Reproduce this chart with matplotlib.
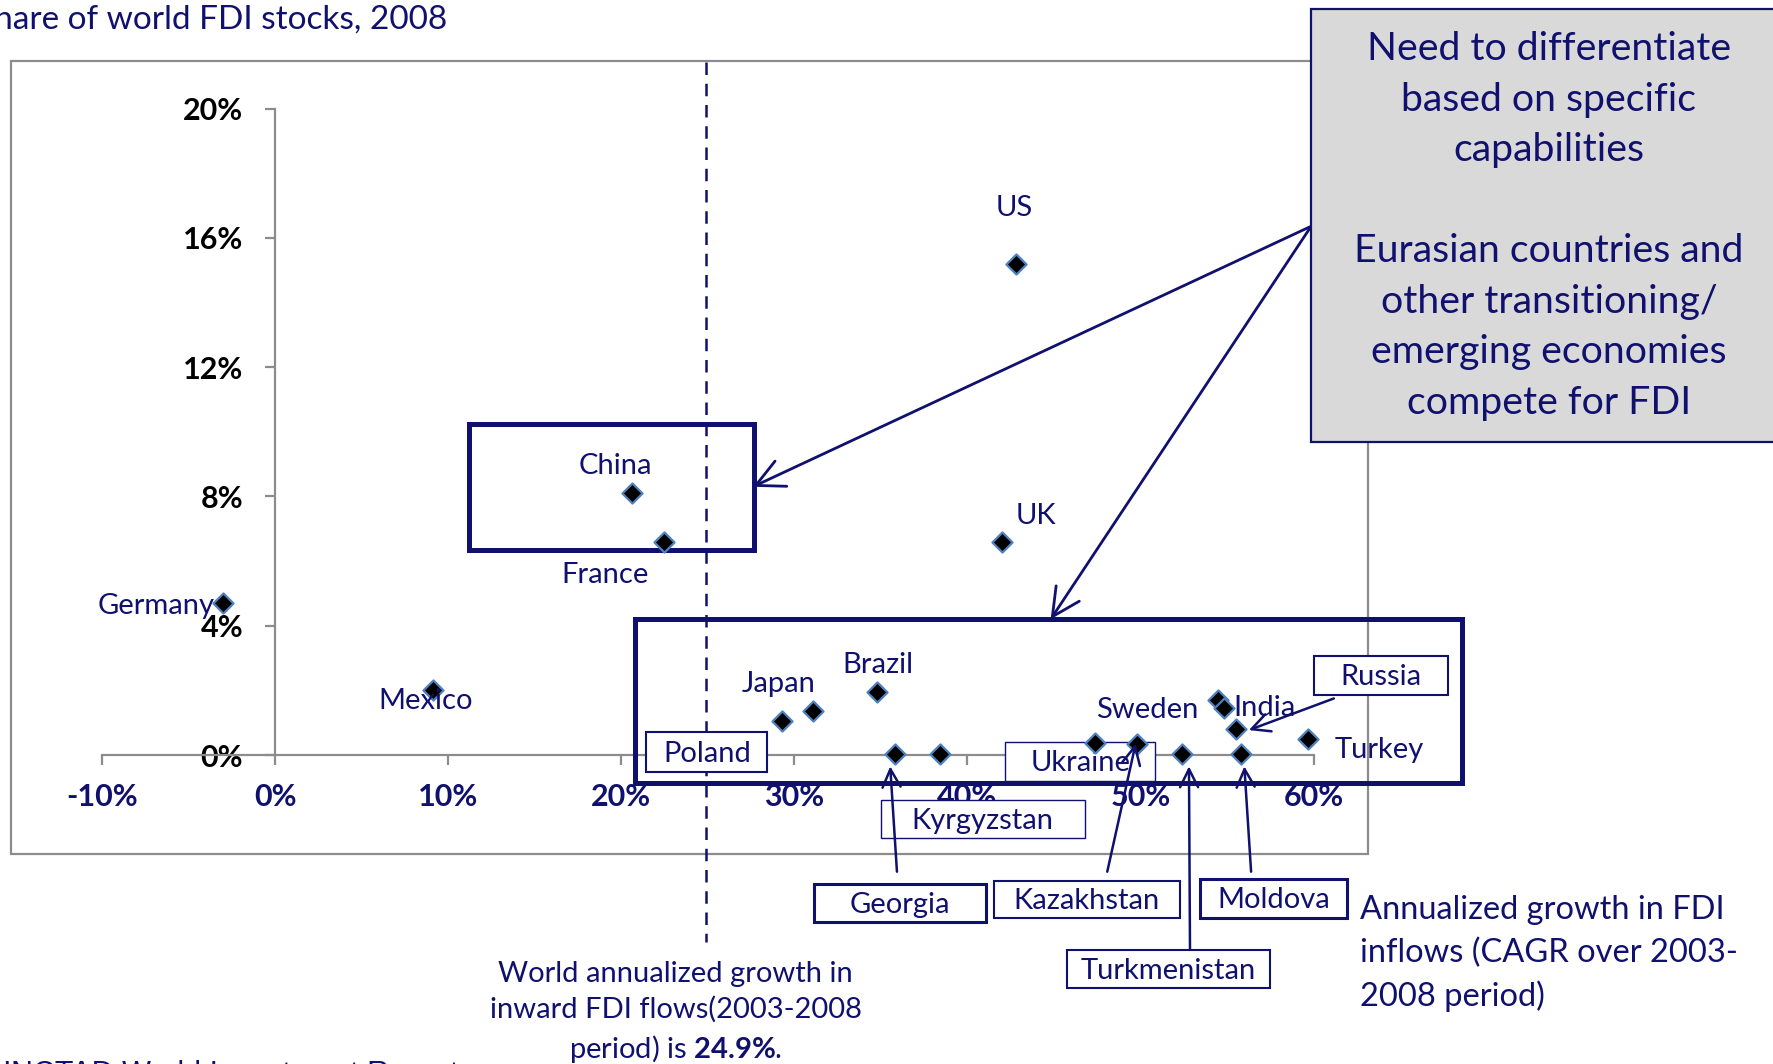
import matplotlib
matplotlib.use('Agg')
import matplotlib.pyplot as plt
from matplotlib.patches import Rectangle, FancyArrowPatch

# ---- data ----
countries = ['US', 'China', 'France', 'UK', 'Germany', 'Mexico', 'Poland', 'Japan', 'Brazil',
             'Georgia', 'Kyrgyzstan', 'Ukraine', 'Kazakhstan', 'Turkmenistan', 'Sweden',
             'India', 'Russia', 'Moldova', 'Turkey']
fdi_growth = [42.8, 20.6, 22.5, 42.0, -3.0, 9.1, 29.3, 31.1, 34.8,
              35.8, 38.4, 47.4, 49.8, 52.4, 54.5, 54.8, 55.5, 55.8, 59.7]
stock_share = [15.2, 8.1, 6.6, 6.6, 4.7, 2.0, 1.05, 1.35, 1.95,
               0.03, 0.03, 0.38, 0.35, 0.03, 1.7, 1.45, 0.82, 0.03, 0.5]
world_growth = 24.9
x_ticks = [-10, 0, 10, 20, 30, 40, 50, 60]
y_ticks = [0, 4, 8, 12, 16, 20]

NAVY = '#10106e'
GREY = '#8c8c8c'
FONT = 'Lato'

plt.rcParams['font.family'] = [FONT, 'DejaVu Sans']
plt.rcParams['mathtext.fontset'] = 'custom'
plt.rcParams['mathtext.rm'] = FONT
plt.rcParams['mathtext.bf'] = FONT + ':bold'

fig = plt.figure(figsize=(17.74, 10.64), dpi=100)
ax = fig.add_axes([0, 0, 1, 1])
ax.set_xlim(-15.89, 86.6)
ax.set_ylim(-9.56, 23.36)
ax.patch.set_alpha(0)

# 坐标轴：穿过原点
for side in ['top', 'right']:
    ax.spines[side].set_visible(False)
ax.spines['left'].set_position(('data', 0))
ax.spines['left'].set_bounds(0, 20)
ax.spines['bottom'].set_position(('data', 0))
ax.spines['bottom'].set_bounds(-10, 60)
for side in ['left', 'bottom']:
    ax.spines[side].set_color(GREY)
    ax.spines[side].set_linewidth(1.6)

ax.set_xticks(x_ticks)
ax.set_xticklabels([f'{v}%' for v in x_ticks], fontweight='bold', fontsize=22, color=NAVY)
ax.set_yticks(y_ticks)
ax.set_yticklabels([f'{v}%' for v in y_ticks], fontweight='bold', fontsize=22, color='black')
ax.tick_params(axis='x', direction='out', length=7, width=1.6, color=GREY, pad=13)
ax.tick_params(axis='y', direction='out', length=7, width=1.6, color=GREY, pad=16)

# chart frame
ax.add_patch(Rectangle((-15.23, -3.05), 78.36, 24.52, fill=False, ec=GREY, lw=1.6, zorder=1))

# world average line
ax.plot([world_growth, world_growth], [21.45, -5.8], ls=(0, (5, 3.5)), color=NAVY, lw=1.8, zorder=2)

# scatter points
ax.scatter(fdi_growth, stock_share, marker='D', s=105, c='black', edgecolors='#4f81bd',
           linewidths=1.6, zorder=6)

# plain labels
plain_labels = {
    'US': (42.7, 16.92), 'China': (19.69, 8.93), 'France': (19.04, 5.57),
    'UK': (43.96, 7.39), 'Germany': (-6.87, 4.62), 'Mexico': (8.70, 1.68),
    'Japan': (29.11, 2.21), 'Brazil': (34.8, 2.80), 'Sweden': (50.37, 1.40),
    'India': (57.18, 1.47), 'Turkey': (63.79, 0.14),
}
for name, (lx, ly) in plain_labels.items():
    ax.text(lx, ly, name, ha='center', va='center', fontsize=21, color=NAVY, zorder=7)

# boxed labels: (x0, x1, y0, y1, linewidth)
boxed_labels = {
    'Poland': (21.46, 28.45, -0.53, 0.70, 1.5),
    'Ukraine': (42.2, 50.83, -0.81, 0.39, 1.0),
    'Kyrgyzstan': (35.0, 46.78, -2.56, -1.40, 1.0),
    'Georgia': (31.14, 41.08, -5.18, -3.99, 2.2),
    'Kazakhstan': (41.54, 52.27, -5.04, -3.89, 1.5),
    'Moldova': (53.45, 61.95, -5.04, -3.85, 2.2),
    'Turkmenistan': (45.73, 57.5, -7.22, -6.02, 1.5),
    'Russia': (60.05, 67.77, 1.86, 3.05, 1.5),
}
for name, (x0, x1, y0, y1, lw) in boxed_labels.items():
    ax.add_patch(Rectangle((x0, y0), x1 - x0, y1 - y0, fc='white', ec=NAVY, lw=lw, zorder=4))
    ax.text((x0 + x1) / 2, (y0 + y1) / 2 - 0.05, name, ha='center', va='center',
            fontsize=21, color=NAVY, zorder=5)

# small arrows from label boxes to points
small_arrows = [
    ((35.93, -3.61), (35.54, -0.35)),
    ((48.08, -3.61), (49.72, 0.35)),
    ((52.86, -5.99), (52.8, -0.35)),
    ((56.39, -3.61), (56.0, -0.35)),
    ((61.17, 1.75), (56.26, 0.77)),
]
for start, end in small_arrows:
    ax.add_patch(FancyArrowPatch(start, end, arrowstyle='->,head_length=1.0,head_width=0.5',
                                 mutation_scale=13, color=NAVY, lw=1.8, zorder=8,
                                 shrinkA=0, shrinkB=0))

# highlight boxes
ax.add_patch(Rectangle((11.2, 6.34), 16.47, 3.89, fill=False, ec=NAVY, lw=3.6, zorder=3))
ax.add_patch(Rectangle((20.8, -0.88), 47.75, 5.08, fill=False, ec=NAVY, lw=3.6, zorder=3))

# call-out box
ax.add_patch(Rectangle((59.86, 9.70), 30, 13.38, fc='#d9d9d9', ec=NAVY, lw=1.6, zorder=9,
                       clip_on=False))
ax.text(73.6, 16.37, 'Need to differentiate\nbased on specific\ncapabilities\n\n'
        'Eurasian countries and\nother transitioning/\nemerging economies\ncompete for FDI',
        ha='center', va='center', fontsize=28.3, color=NAVY, linespacing=1.5, zorder=10)
for end in [(27.61, 8.3), (44.81, 4.2)]:
    ax.add_patch(FancyArrowPatch((59.86, 16.36), end,
                                 arrowstyle='->,head_length=1.0,head_width=0.5',
                                 mutation_scale=20, color=NAVY, lw=2.0, zorder=8,
                                 shrinkA=0, shrinkB=0))

# texts
ax.text(9.93, 22.76, 'Share of world FDI stocks, 2008', ha='right', va='center',
        fontsize=24, color=NAVY)
ax.text(23.14, -7.98, 'World annualized growth in\ninward FDI flows(2003-2008\n'
        'period) is $\\mathbf{24.9\\%}$.', ha='center', va='center', fontsize=21,
        color=NAVY, linespacing=1.4)
ax.text(62.68, -6.15, 'Annualized growth in FDI\ninflows (CAGR over 2003-\n2008 period)',
        ha='left', va='center', fontsize=23.5, color=NAVY, linespacing=1.5)
ax.text(-16.5, -9.45, 'UNCTAD World Investment Report', ha='left', va='top', fontsize=22,
        color=NAVY, family='Liberation Sans')

fig.savefig('out.png', dpi=100)
